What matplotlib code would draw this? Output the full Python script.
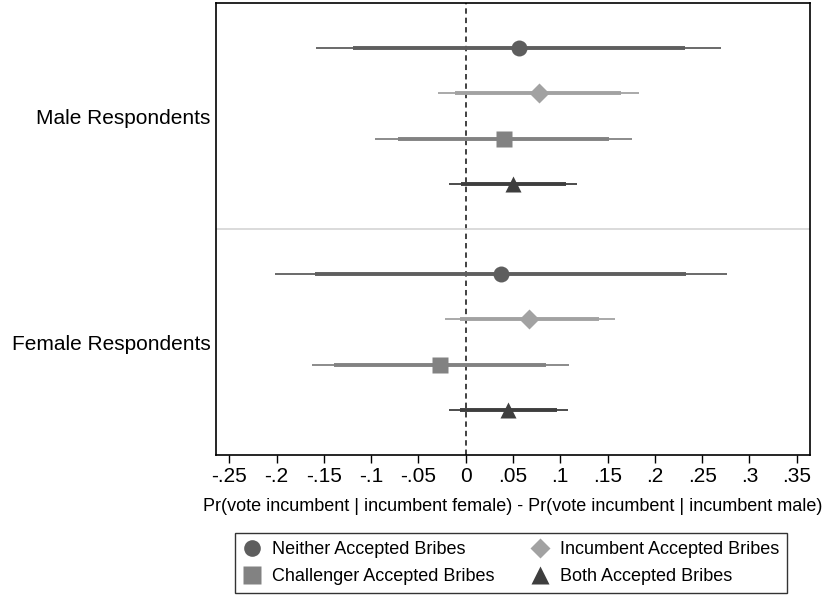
import numpy as np
import matplotlib
matplotlib.use("Agg")
import matplotlib.pyplot as plt
from matplotlib.lines import Line2D

plt.rcParams['font.family'] = ['Liberation Sans', 'DejaVu Sans']

# bribe conditions, top to bottom within each panel
conditions = ['Neither Accepted Bribes', 'Incumbent Accepted Bribes',
              'Challenger Accepted Bribes', 'Both Accepted Bribes']
groups = ['Male Respondents', 'Female Respondents']

# point estimates and 90% / 95% intervals
male_est = [0.056, 0.077, 0.040, 0.050]
male_lo95 = [-0.158, -0.029, -0.096, -0.018]
male_lo90 = [-0.119, -0.011, -0.072, -0.005]
male_hi90 = [0.232, 0.164, 0.151, 0.106]
male_hi95 = [0.270, 0.183, 0.176, 0.118]

female_est = [0.037, 0.067, -0.027, 0.045]
female_lo95 = [-0.202, -0.022, -0.163, -0.018]
female_lo90 = [-0.159, -0.006, -0.139, -0.006]
female_hi90 = [0.233, 0.141, 0.085, 0.097]
female_hi95 = [0.276, 0.158, 0.109, 0.108]

xticks = [-0.25, -0.2, -0.15, -0.1, -0.05, 0, 0.05, 0.1, 0.15, 0.2, 0.25, 0.3, 0.35]
xtick_labels = ['-.25', '-.2', '-.15', '-.1', '-.05', '0', '.05', '.1', '.15',
                '.2', '.25', '.3', '.35']

colors = ['#5e5e5e', '#a2a2a2', '#828282', '#3e3e3e']
markers = ['o', 'D', 's', '^']
msizes = [11.5, 10, 12, 12]

W, H = 822, 596
fig = plt.figure(figsize=(W / 100, H / 100), dpi=100)
ax = fig.add_axes([216 / W, 1 - 455 / H, (810 - 216) / W, (455 - 3) / H])

data = [(male_est, male_lo95, male_lo90, male_hi90, male_hi95),
        (female_est, female_lo95, female_lo90, female_hi90, female_hi95)]

ax.axvline(0, color='#333333', lw=1.3, ls=(0, (3, 2.2)), zorder=1)
ax.axhline(5, color='#d4d4d4', lw=1.2, zorder=1)

for g, (est, lo95, lo90, hi90, hi95) in enumerate(data):
    for i in range(4):
        y = 1 + i + 5 * g
        ax.hlines(y, lo95[i], hi95[i], color=colors[i], lw=1.3, zorder=2)
        ax.hlines(y, lo90[i], hi90[i], color=colors[i], lw=2.8, zorder=3)
        ax.plot(est[i], y, marker=markers[i], color=colors[i], ms=msizes[i],
                mec='none', zorder=4)

ax.set_xlim(-0.264, 0.364)
ax.set_ylim(10, 0)
ax.set_xticks(xticks)
ax.set_xticklabels(xtick_labels, fontsize=15)
ax.set_yticks([2.5, 7.5])
ax.set_yticklabels(groups, fontsize=15)
ax.tick_params(axis='y', length=0, pad=4)
ax.tick_params(axis='x', length=6, width=1, pad=3, direction='out')
for s in ax.spines.values():
    s.set_linewidth(1.2)
    s.set_color('black')
ax.set_xlabel('Pr(vote incumbent | incumbent female) - Pr(vote incumbent | incumbent male)',
              fontsize=13, labelpad=8)

# legend fills column-wise, so reorder to get rows: Neither/Incumbent, Challenger/Both
order = [0, 2, 1, 3]
handles = [Line2D([], [], ls='none', marker=markers[i], color=colors[i],
                  ms=msizes[i] + 0.5, mec='none') for i in order]
leg = fig.legend(handles, [conditions[i] for i in order], loc='center', ncol=2,
                 fontsize=13, bbox_to_anchor=(511 / W, 1 - 563 / H), frameon=True,
                 fancybox=False, edgecolor='black', handlelength=1.0,
                 handletextpad=0.6, columnspacing=2.0, labelspacing=0.55,
                 borderpad=0.45, borderaxespad=0)
leg.get_frame().set_linewidth(1.0)

fig.savefig('out.png', dpi=100)
